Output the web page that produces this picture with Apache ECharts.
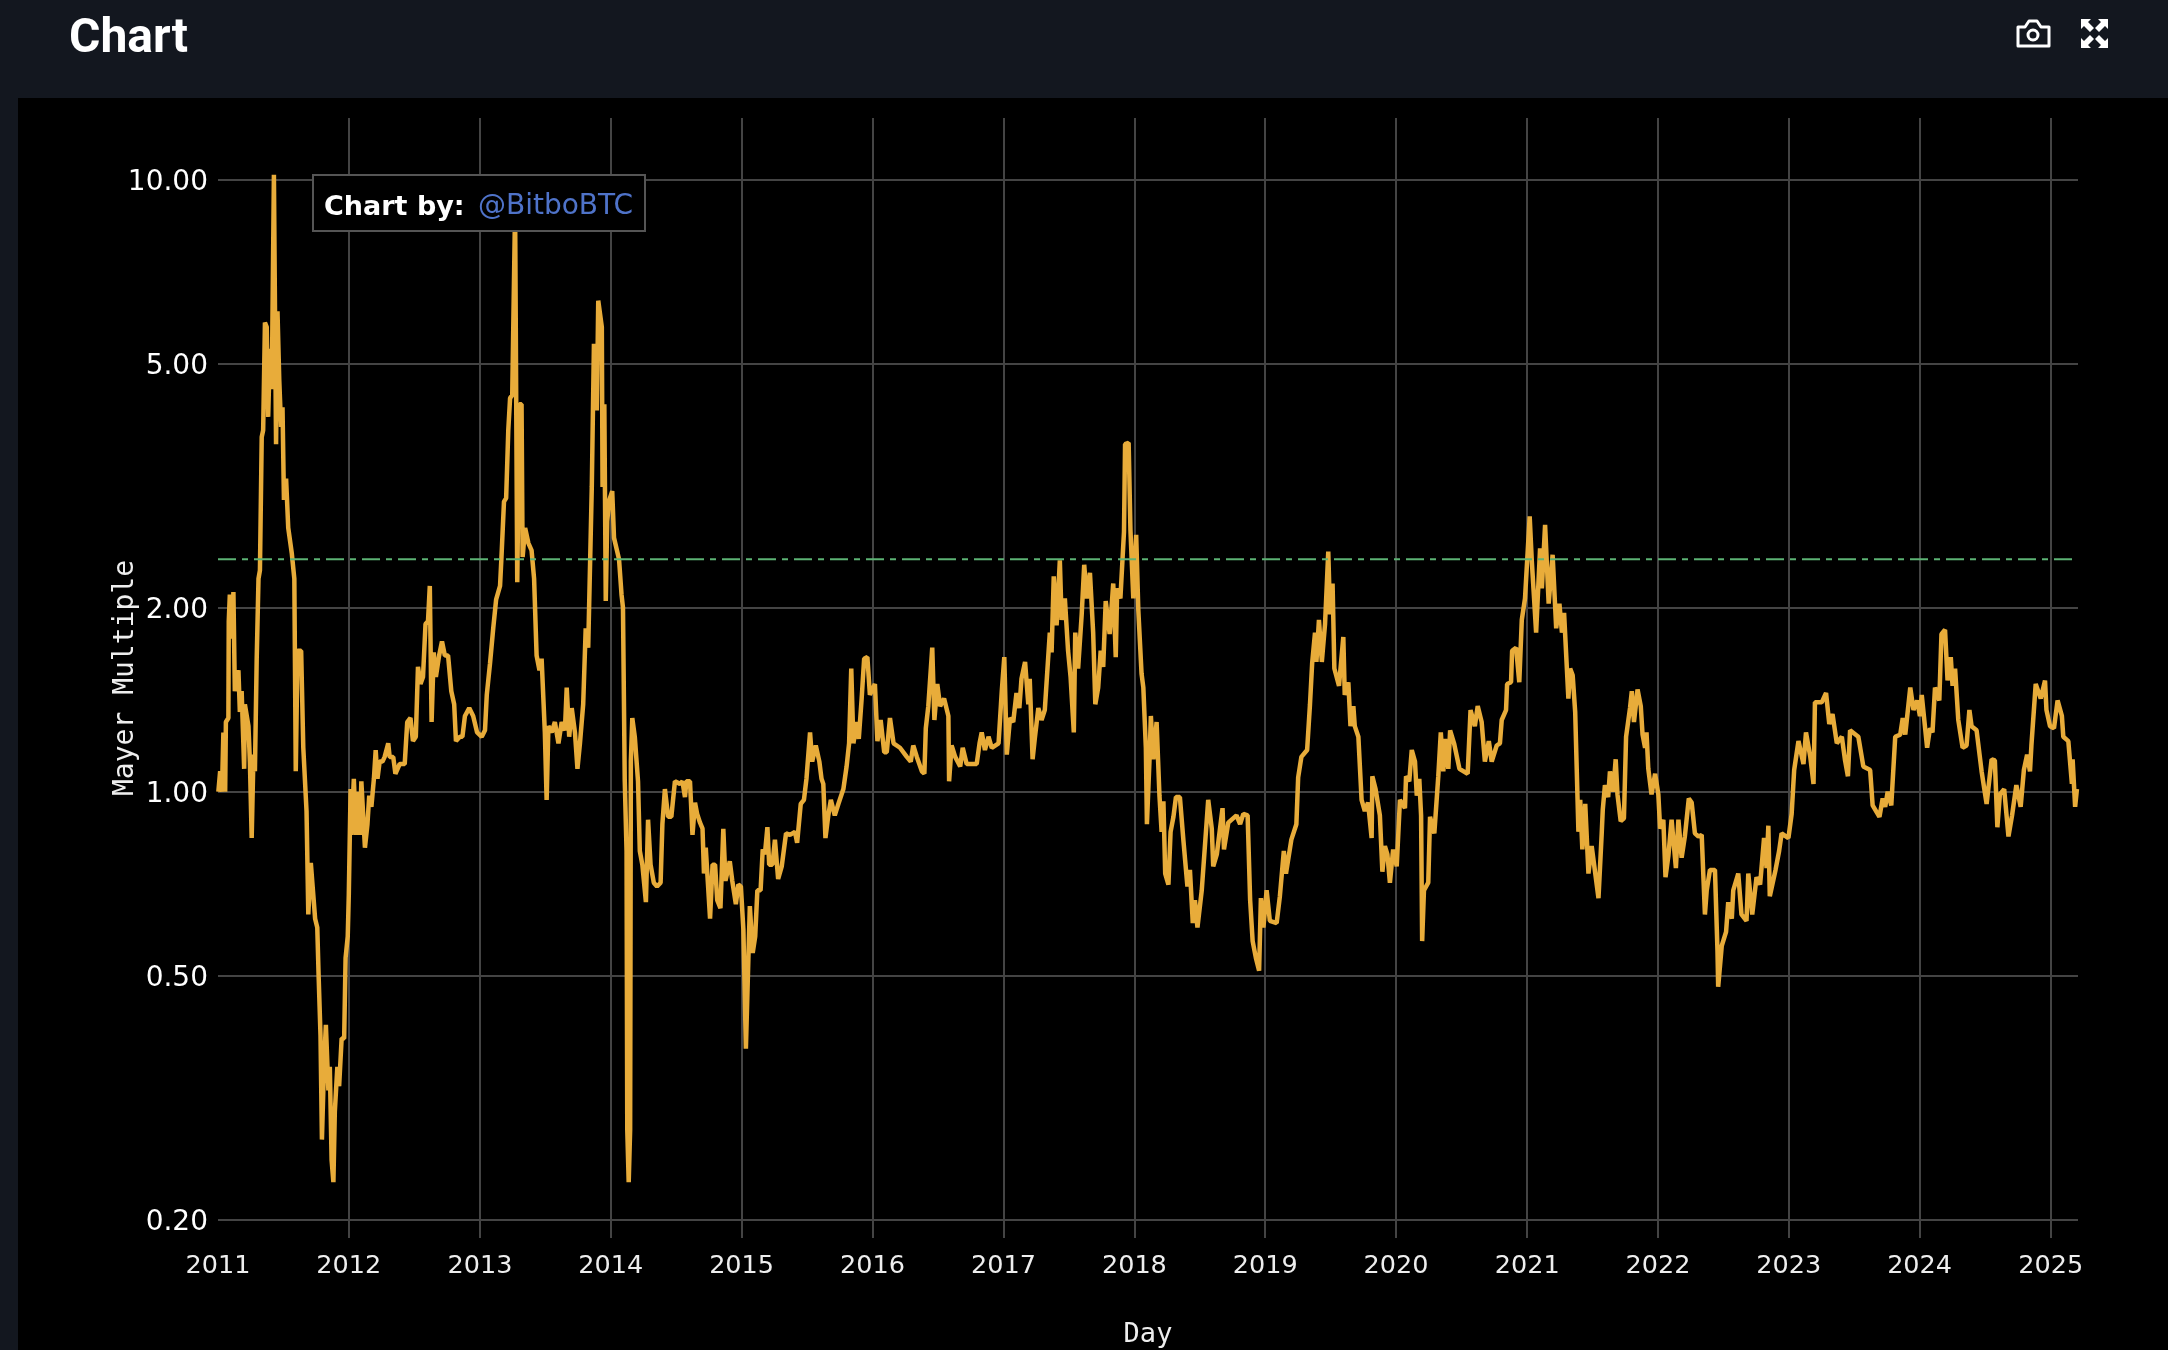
<!DOCTYPE html>
<html>
<head>
<meta charset="utf-8">
<title>Chart</title>
<style>
  html, body { margin: 0; padding: 0; background: #13171f; }
  #main { width: 2168px; height: 1350px; }
</style>
<script src="https://cdn.jsdelivr.net/npm/echarts@6/dist/echarts.min.js"></script>
</head>
<body>
<div id="main"></div>
<script>
// [day of the year, mayer multiple], one list per year
var m2011 = [[1,1.0],[6,1.08],[11,1.0],[15,1.25],[20,1.0],[22,1.3],[29,1.32],[30,1.9],[33,2.1],[38,1.78],[43,2.12],[47,1.46],[57,1.58],[61,1.35],[66,1.46],[73,1.09],[75,1.39],[85,1.28],[89,1.12],[94,0.84],[99,1.15],[103,1.08],[108,1.65],[113,2.23],[117,2.3],[122,3.8],[126,3.9],[131,5.85],[136,5.75],[140,4.1],[145,5.3],[150,4.55],[156,10.2],[162,3.7],[166,6.1],[171,4.7],[176,3.95],[180,4.25],[184,3.0],[190,3.25],[196,2.7],[206,2.45],[213,2.23],[217,1.08],[222,1.7],[232,1.7],[238,1.18],[247,0.93],[252,0.63],[259,0.765],[264,0.76],[271,0.62],[277,0.6],[281,0.495],[286,0.4],[290,0.27],[296,0.36],[301,0.416],[308,0.325],[312,0.355],[317,0.25],[322,0.23],[326,0.3],[333,0.355],[338,0.33],[345,0.395],[352,0.395],[356,0.535],[362,0.58]];
var m2012 = [[0,0.68],[5,1.01],[7,0.85],[14,1.05],[20,0.85],[24,1.0],[31,0.85],[35,1.04],[40,1.04],[45,0.81],[52,0.885],[57,0.985],[63,0.945],[70,1.05],[75,1.17],[80,1.05],[86,1.12],[94,1.12],[100,1.14],[110,1.2],[114,1.14],[124,1.14],[130,1.07],[142,1.11],[156,1.11],[163,1.3],[172,1.32],[179,1.21],[187,1.23],[193,1.6],[200,1.5],[207,1.54],[214,1.88],[221,1.9],[226,2.17],[231,1.3],[237,1.69],[243,1.54],[252,1.67],[260,1.76],[268,1.67],[277,1.67],[286,1.46],[294,1.39],[299,1.21],[310,1.23],[317,1.23],[324,1.33],[336,1.37],[347,1.33],[358,1.25]];
var m2013 = [[5,1.23],[14,1.26],[19,1.44],[28,1.62],[37,1.85],[45,2.06],[56,2.17],[60,2.42],[67,2.98],[73,3.02],[79,3.9],[84,4.4],[90,4.45],[98,9.0],[104,2.2],[110,4.3],[116,4.3],[119,2.42],[126,2.7],[135,2.55],[144,2.48],[151,2.23],[158,1.67],[166,1.58],[172,1.65],[181,1.25],[186,0.97],[191,1.28],[200,1.25],[209,1.3],[219,1.2],[228,1.3],[237,1.26],[242,1.48],[249,1.23],[256,1.37],[265,1.25],[272,1.09],[279,1.2],[288,1.39],[295,1.85],[302,1.72],[312,3.15],[318,5.4],[326,4.2],[330,6.35],[340,5.75],[342,3.15],[347,4.3],[351,2.05],[355,2.77],[361,3.0]];
var m2014 = [[4,3.1],[9,2.6],[23,2.4],[30,2.1],[34,2.0],[39,1.04],[44,0.8],[46,0.28],[50,0.23],[54,0.28],[56,1.12],[60,1.32],[67,1.23],[76,1.04],[81,0.8],[88,0.76],[98,0.66],[104,0.9],[111,0.76],[120,0.71],[129,0.7],[139,0.71],[144,0.885],[151,1.01],[160,0.91],[169,0.91],[179,1.04],[193,1.03],[200,1.04],[207,0.98],[211,1.04],[221,1.04],[228,0.85],[235,0.96],[241,0.92],[249,0.89],[256,0.87],[260,0.735],[265,0.81],[277,0.62],[284,0.76],[291,0.76],[297,0.665],[306,0.645],[314,0.87],[320,0.715],[332,0.77],[339,0.715],[349,0.655],[356,0.705],[363,0.7]];
var m2015 = [[5,0.595],[12,0.38],[23,0.65],[31,0.545],[38,0.58],[44,0.69],[53,0.69],[59,0.805],[65,0.79],[72,0.875],[77,0.76],[86,0.76],[93,0.835],[102,0.72],[112,0.755],[124,0.855],[135,0.85],[149,0.86],[155,0.825],[165,0.955],[174,0.97],[181,1.05],[191,1.25],[197,1.12],[207,1.19],[217,1.12],[223,1.05],[228,1.03],[234,0.84],[242,0.915],[249,0.97],[260,0.915],[270,0.955],[284,1.01],[293,1.1],[300,1.2],[306,1.59],[312,1.2],[321,1.3],[327,1.22],[335,1.42],[342,1.65],[351,1.66],[358,1.44]];
var m2016 = [[7,1.5],[14,1.21],[23,1.31],[33,1.16],[40,1.16],[49,1.32],[59,1.2],[77,1.18],[96,1.14],[107,1.12],[114,1.19],[124,1.14],[138,1.08],[145,1.07],[149,1.27],[156,1.38],[167,1.72],[173,1.31],[181,1.5],[189,1.38],[200,1.42],[212,1.33],[214,1.04],[221,1.19],[231,1.14],[245,1.1],[252,1.18],[263,1.11],[291,1.11],[299,1.2],[305,1.25],[314,1.17],[324,1.23],[333,1.18],[352,1.2],[361,1.46]];
var m2017 = [[2,1.66],[9,1.15],[18,1.32],[27,1.3],[36,1.45],[44,1.37],[50,1.53],[60,1.63],[69,1.39],[73,1.53],[81,1.13],[87,1.22],[97,1.37],[106,1.31],[115,1.36],[129,1.82],[134,1.69],[140,2.25],[148,1.87],[157,2.39],[162,1.91],[171,2.07],[180,1.7],[187,1.54],[196,1.25],[200,1.82],[208,1.59],[218,1.95],[225,2.35],[232,2.07],[241,2.28],[250,1.82],[256,1.39],[264,1.48],[271,1.7],[278,1.6],[285,2.05],[296,1.81],[306,2.19],[313,1.66],[317,2.15],[326,2.07],[336,2.66],[339,3.7],[349,3.72],[354,2.68],[362,2.07]];
var m2018 = [[5,2.63],[11,1.98],[20,1.56],[25,1.48],[32,1.18],[35,0.885],[42,1.12],[46,1.33],[53,1.13],[62,1.3],[70,0.985],[76,0.86],[81,0.965],[86,0.735],[95,0.705],[101,0.86],[109,0.91],[116,0.98],[127,0.98],[137,0.83],[148,0.7],[155,0.745],[163,0.61],[169,0.665],[176,0.6],[188,0.69],[206,0.97],[216,0.87],[220,0.755],[230,0.79],[246,0.94],[250,0.805],[262,0.89],[285,0.915],[295,0.885],[304,0.92],[316,0.915],[323,0.665],[330,0.57],[339,0.535],[348,0.51],[353,0.67],[360,0.6]];
var m2019 = [[4,0.69],[13,0.615],[32,0.61],[41,0.675],[52,0.8],[58,0.735],[73,0.835],[87,0.885],[92,1.055],[101,1.14],[117,1.17],[125,1.39],[131,1.62],[139,1.82],[143,1.63],[150,1.91],[158,1.63],[167,1.88],[176,2.47],[181,1.95],[188,2.19],[193,1.59],[206,1.49],[218,1.79],[222,1.44],[232,1.51],[238,1.28],[246,1.38],[250,1.28],[260,1.23],[269,0.97],[278,0.93],[287,0.96],[297,0.84],[299,1.06],[308,1.01],[320,0.915],[327,0.74],[334,0.815],[341,0.79],[348,0.71],[357,0.805]];
var m2020 = [[2,0.755],[11,0.97],[25,0.94],[28,1.06],[37,1.04],[44,1.17],[53,1.12],[58,0.985],[65,1.05],[70,0.915],[73,0.57],[78,0.69],[90,0.71],[95,0.91],[107,0.855],[118,1.06],[125,1.25],[132,1.08],[137,1.22],[146,1.09],[151,1.26],[162,1.2],[177,1.09],[200,1.07],[208,1.36],[220,1.28],[228,1.38],[239,1.3],[248,1.12],[259,1.21],[267,1.12],[281,1.19],[290,1.2],[295,1.31],[307,1.36],[310,1.5],[321,1.51],[324,1.7],[335,1.72],[344,1.51],[351,1.91],[360,2.07]];
var m2021 = [[7,2.82],[13,2.38],[25,1.82],[36,2.5],[41,2.15],[50,2.73],[60,2.03],[71,2.44],[81,1.85],[90,2.03],[97,1.82],[103,1.96],[115,1.42],[120,1.59],[127,1.55],[134,1.35],[143,0.86],[148,0.97],[154,0.805],[162,0.955],[171,0.735],[180,0.815],[199,0.67],[203,0.675],[208,0.855],[211,0.935],[217,1.025],[226,0.98],[231,1.08],[240,1.0],[247,1.13],[252,0.99],[261,0.895],[270,0.905],[276,1.23],[287,1.37],[292,1.46],[298,1.3],[308,1.47],[317,1.38],[322,1.24],[329,1.18],[333,1.25],[338,1.09],[347,0.99],[357,1.07]];
var m2022 = [[1,0.99],[6,0.87],[15,0.9],[21,0.725],[29,0.785],[38,0.9],[50,0.75],[57,0.9],[66,0.78],[75,0.845],[86,0.975],[94,0.96],[103,0.855],[113,0.845],[122,0.85],[131,0.63],[136,0.69],[145,0.745],[159,0.745],[166,0.55],[168,0.48],[178,0.56],[190,0.59],[196,0.66],[206,0.62],[210,0.69],[224,0.735],[233,0.63],[247,0.615],[252,0.735],[263,0.63],[275,0.725],[285,0.705],[296,0.84],[303,0.75],[308,0.88],[312,0.675],[328,0.745],[338,0.8],[345,0.855],[364,0.84]];
var m2023 = [[8,0.92],[15,1.085],[27,1.21],[41,1.11],[48,1.25],[60,1.14],[69,1.03],[73,1.4],[92,1.4],[104,1.45],[113,1.29],[122,1.34],[134,1.2],[148,1.23],[157,1.125],[165,1.06],[171,1.26],[194,1.23],[208,1.1],[227,1.085],[234,0.95],[253,0.91],[262,0.975],[269,0.945],[276,1.0],[286,0.95],[297,1.23],[311,1.24],[318,1.32],[325,1.24],[339,1.48],[348,1.36],[358,1.41]];
var m2024 = [[1,1.33],[6,1.44],[21,1.18],[29,1.27],[36,1.25],[43,1.48],[55,1.41],[61,1.81],[71,1.84],[78,1.52],[87,1.66],[92,1.49],[99,1.59],[108,1.31],[120,1.18],[131,1.19],[139,1.36],[145,1.28],[159,1.26],[173,1.08],[187,0.955],[201,1.13],[210,1.125],[217,0.875],[224,0.99],[236,1.01],[248,0.845],[258,0.915],[270,1.025],[282,0.945],[291,1.085],[300,1.15],[308,1.08],[312,1.19],[324,1.5],[338,1.42],[350,1.52],[354,1.36],[364,1.28]];
var m2025 = [[9,1.27],[19,1.41],[31,1.33],[35,1.23],[49,1.21],[59,1.03],[61,1.13],[68,0.945],[73,1.01]];

var yearLists = {2011:m2011, 2012:m2012, 2013:m2013, 2014:m2014, 2015:m2015, 2016:m2016, 2017:m2017,
  2018:m2018, 2019:m2019, 2020:m2020, 2021:m2021, 2022:m2022, 2023:m2023, 2024:m2024, 2025:m2025};

var yearTicks = [2011,2012,2013,2014,2015,2016,2017,2018,2019,2020,2021,2022,2023,2024,2025];
var yTicks = [0.2, 0.5, 1, 2, 5, 10];
var sellLevel = 2.4;
var lastDay = Date.UTC(2025, 2, 18);

var mayer = [];
yearTicks.forEach(function (y) {
  yearLists[y].forEach(function (p) {
    mayer.push([Date.UTC(y, 0, 1 + p[0]), p[1]]);
  });
});
var yearStarts = yearTicks.map(function (y) { return Date.UTC(y, 0, 1); });

var myChart = echarts.init(document.getElementById('main'), null, { renderer: 'canvas' });

// small helper for the icon arrows, mirrored into the four corners
function arrow(cx, cy, sx, sy) {
  var pts = [[0,0],[10,0],[7,3],[13,9],[9,13],[3,7],[0,10]];
  return {
    type: 'polygon', z: 100,
    shape: { points: pts.map(function (p) { return [cx + sx * p[0], cy + sy * p[1]]; }) },
    style: { fill: '#fff' }
  };
}

var option = {
  animation: false,
  backgroundColor: '#13171f',
  title: {
    text: 'Chart',
    left: 64,
    top: 11,
    textStyle: { color: '#fff', fontFamily: 'Roboto', fontWeight: 700, fontSize: 48 }
  },
  grid: { left: 218, top: 118, width: 1860, height: 1120, outerBoundsMode: 'none' },
  xAxis: {
    type: 'value',
    scale: true,
    min: Date.UTC(2011, 0, 1),
    max: lastDay,
    name: 'Day',
    nameLocation: 'middle',
    nameGap: 83,
    nameMoveOverlap: false,
    nameTextStyle: { color: '#eee', fontFamily: 'DejaVu Sans Mono', fontSize: 27 },
    axisLine: { show: false },
    axisTick: { show: false, customValues: yearStarts },
    splitLine: { show: true, showMinLine: false, lineStyle: { color: '#444', width: 2 } },
    axisLabel: {
      customValues: yearStarts,
      color: '#eee',
      fontFamily: 'DejaVu Sans',
      fontSize: 25.5,
      margin: 15,
      hideOverlap: false,
      formatter: function (v) { return String(new Date(v).getUTCFullYear()); }
    }
  },
  yAxis: {
    type: 'log',
    logBase: 10,
    min: 0.1864,
    max: 12.63,
    name: 'Mayer Multiple',
    nameLocation: 'middle',
    nameGap: 78,
    nameMoveOverlap: false,
    nameTextStyle: { color: '#eee', fontFamily: 'DejaVu Sans Mono', fontSize: 28 },
    axisLine: { show: false },
    axisTick: { show: false, customValues: yTicks },
    splitLine: { show: true, lineStyle: { color: '#444', width: 2 } },
    axisLabel: {
      customValues: yTicks,
      margin: 10,
      formatter: function (v) { return '{a|' + Number(v).toFixed(2) + '}'; },
      rich: {
        a: { color: '#fff', fontFamily: 'DejaVu Sans', fontSize: 28, padding: [6, 0, 0, 0] }
      }
    }
  },
  series: [
    {
      name: 'Mayer Multiple',
      type: 'line',
      data: mayer,
      showSymbol: false,
      sampling: 'none',
      z: 3,
      lineStyle: { color: '#e8ac3a', width: 4.5, join: 'bevel' }
    },
    {
      name: 'Sell level',
      type: 'line',
      data: [[Date.UTC(2011, 0, 1), sellLevel], [lastDay, sellLevel]],
      showSymbol: false,
      z: 4,
      lineStyle: { color: '#5cb374', width: 2, type: [18, 6, 6, 6] }
    }
  ],
  graphic: {
    elements: [
      { type: 'rect', z: -10, silent: true, shape: { x: 18, y: 98, width: 2150, height: 1252 }, style: { fill: '#000' } },
      // badge over the chart
      { type: 'rect', z: 100, shape: { x: 313, y: 175, width: 332, height: 56 }, style: { fill: '#000', stroke: '#555', lineWidth: 2 } },
      { type: 'text', z: 101, x: 324, y: 194, style: {
          text: 'Chart by:',
          fill: '#fff', fontFamily: 'DejaVu Sans', fontWeight: 'bold', fontSize: 27
        } },
      { type: 'text', z: 101, x: 478, y: 193, style: {
          text: '@BitboBTC',
          fill: '#4f73c9', fontFamily: 'DejaVu Sans', fontSize: 28
        } },
      // camera icon
      { type: 'polygon', z: 100, shape: {
          points: [[2018,27],[2025,27],[2029,21],[2037,21],[2041,27],[2049,27],[2049,46],[2018,46]]
        }, style: { fill: 'none', stroke: '#fff', lineWidth: 3, lineJoin: 'round' } },
      { type: 'circle', z: 100, shape: { cx: 2033, cy: 35, r: 5 }, style: { fill: 'none', stroke: '#fff', lineWidth: 3 } },
      // fullscreen icon
      arrow(2081, 19, 1, 1),
      arrow(2108, 19, -1, 1),
      arrow(2081, 48, 1, -1),
      arrow(2108, 48, -1, -1)
    ]
  }
};
myChart.setOption(option);
</script>
</body>
</html>
